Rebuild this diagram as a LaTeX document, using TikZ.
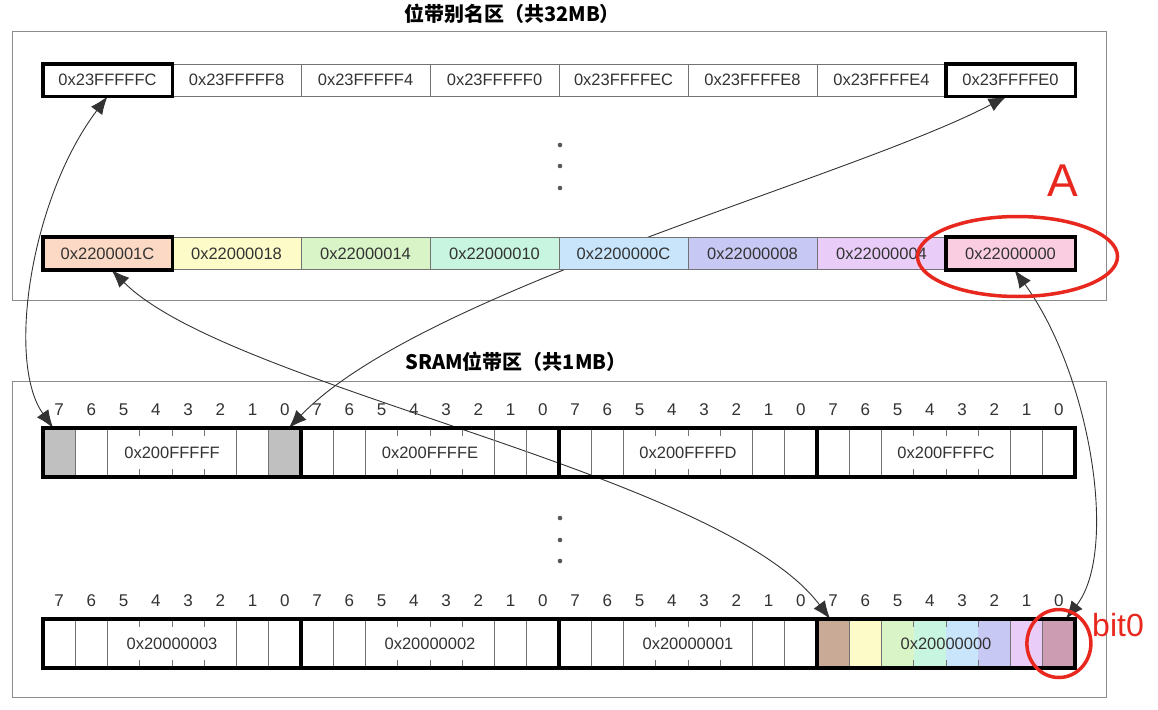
\documentclass[tikz,border=0pt]{standalone}
\usepackage{fontspec}
\setmainfont{Liberation Sans}
\newfontfamily\cjk{Noto Sans CJK SC}
\usepackage{tikz}
\usetikzlibrary{arrows.meta,shapes.geometric,backgrounds}

\definecolor{p1}{HTML}{FCD9C4}
\definecolor{p2}{HTML}{FDFCC8}
\definecolor{p3}{HTML}{D9F5C8}
\definecolor{p4}{HTML}{C8F5DF}
\definecolor{p5}{HTML}{C8E5FB}
\definecolor{p6}{HTML}{C8C8F5}
\definecolor{p7}{HTML}{E9CDF8}
\definecolor{p8}{HTML}{FBCDE1}
\definecolor{q1}{HTML}{C9AA96}
\definecolor{q8}{HTML}{CC9CB2}
\definecolor{bitgray}{HTML}{C0C0C0}
\definecolor{redmark}{HTML}{E8281E}

\begin{document}
\begin{tikzpicture}[x=1pt,y=-1pt,
    addr/.style={font=\fontsize{16.5}{18}\selectfont, text=black!80},
    cell/.style={addr, draw=black!55, line width=0.8pt, minimum width=129pt, minimum height=32pt, inner sep=0pt},
    boldbox/.style={draw=black, line width=3.8pt},
    bit/.style={minimum width=32.25pt, minimum height=49pt, inner sep=0pt, outer sep=0pt},
    bitline/.style={draw=black!55, line width=0.8pt},
    bytebox/.style={addr, draw=black, line width=4pt, minimum width=258pt, minimum height=49pt, inner sep=0pt},
    bitnum/.style={font=\fontsize{17}{18}\selectfont, text=black!80},
    link/.style={black!80, line width=0.9pt, {Latex[length=18pt,width=14pt]}-{Latex[length=18pt,width=14pt]}},
    panel/.style={draw=black!45, line width=1pt},
    title/.style={font=\cjk\bfseries\fontsize{20}{23}\selectfont},
    ring/.style={ellipse, draw=redmark, line width=3.5pt, inner sep=0pt},
    note/.style={text=redmark, inner sep=0pt}]

    \useasboundingbox (0,0) rectangle (1158,709);

    \node[title] (t1) at (512,14) {位带别名区（共32MB）};
    \node[title] (t2) at (516,362) {SRAM位带区（共1MB）};

    \foreach \lab [count=\i] in {23FFFFFC,23FFFFF8,23FFFFF4,23FFFFF0,23FFFFEC,23FFFFE8,23FFFFE4,23FFFFE0}
        \node[cell] (a\i) at ({43+129*(\i-0.5)},80) {0x\lab};
    \foreach \lab/\c [count=\i] in {2200001C/p1,22000018/p2,22000014/p3,22000010/p4,2200000C/p5,22000008/p6,22000004/p7,22000000/p8}
        \node[cell, fill=\c] (b\i) at ({43+129*(\i-0.5)},253.5) {0x\lab};
    \foreach \n in {a1,a8,b1,b8}
        \draw[boldbox] (\n.north west) rectangle (\n.south east);

    \foreach \y in {145,166,188,518,540,561}
        \fill[black!65] (560,\y) circle (2.3pt);

    \foreach \r/\y in {1/452.5,2/643.5}{
        \foreach \j in {1,...,32}{
            \pgfmathtruncatemacro\n{7-mod(\j-1,8)}
            \node[bit] (s\r-\j) at ({43+32.25*(\j-0.5)},\y) {};
            \node[bitnum] at ([yshift=18pt]s\r-\j.north) {\n};
        }
    }
    \foreach \n/\c in {s1-1/bitgray,s1-8/bitgray,s2-25/q1,s2-26/p2,s2-27/p3,s2-28/p4,s2-29/p5,s2-30/p6,s2-31/p7,s2-32/q8}
        \fill[\c] (\n.north west) rectangle (\n.south east);
    \foreach \r in {1,2}{
        \foreach \k in {0,...,3}{
            \foreach \m in {1,2,6,7}{
                \pgfmathtruncatemacro\j{8*\k+\m}
                \draw[bitline] (s\r-\j.north east) -- (s\r-\j.south east);
            }
            \foreach \m in {3,4,5}{
                \pgfmathtruncatemacro\j{8*\k+\m}
                \draw[bitline] (s\r-\j.north east) -- +(0,8);
                \draw[bitline] (s\r-\j.south east) -- +(0,-8);
            }
        }
    }
    \foreach \lab [count=\k] in {0x200FFFFF,0x200FFFFE,0x200FFFFD,0x200FFFFC}
        \node[bytebox] (m1-\k) at ({43+258*(\k-0.5)},452.5) {\lab};
    \foreach \lab [count=\k] in {0x20000003,0x20000002,0x20000001,0x20000000}
        \node[bytebox] (m2-\k) at ({43+258*(\k-0.5)},643.5) {\lab};

    \begin{scope}[on background layer]
        \fill[white] (0,0) rectangle (1158,709);
        \draw[panel] (12,32) rectangle (1106,300);
        \draw[panel] (12,381) rectangle (1106,697);
        \draw[link] (a1.south) .. controls +(-77,102) and +(-47,-66) .. ([xshift=-6pt]s1-1.north);
        \draw[link] ([xshift=-4pt]a8.south) .. controls +(-156,82) and +(131,-137) .. ([xshift=4pt]s1-8.north);
        \draw[link] ([xshift=4pt]b1.south) .. controls +(118,118) and +(-110,-147) .. ([xshift=-3pt]s2-25.north);
        \draw[link] ([xshift=4pt]b8.south) .. controls +(76,105) and +(53,-68) .. ([xshift=7pt]s2-32.north);
    \end{scope}

    \node[ring, minimum width=200pt, minimum height=80pt] (ringA) at ([xshift=7pt,yshift=-3pt]b8.center) {};
    \node[note, font=\fontsize{46}{50}\selectfont] (markA) at (1063,181) {A};
    \node[ring, minimum width=64pt, minimum height=68pt] (ringB) at (s2-32) {};
    \node[note, font=\fontsize{32}{36}\selectfont, anchor=west] (markB) at (1092,625) {bit0};
\end{tikzpicture}
\end{document}
